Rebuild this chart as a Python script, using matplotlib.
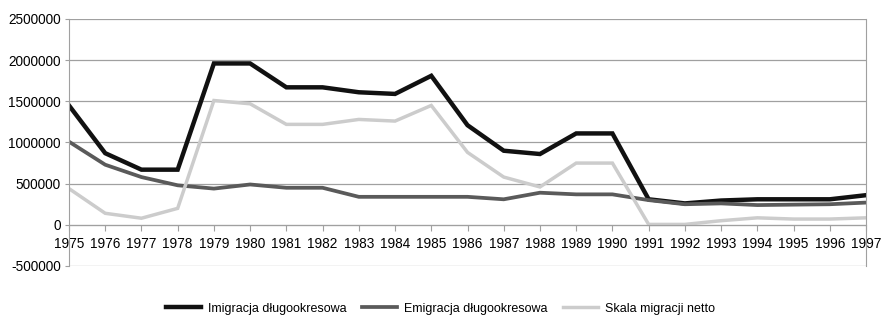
import matplotlib
matplotlib.use("Agg")
import matplotlib.pyplot as plt

years = list(range(1975, 1998))
imigracja = [1450000, 870000, 670000, 670000, 1960000, 1960000, 1670000, 1670000,
             1610000, 1590000, 1810000, 1210000, 900000, 860000, 1110000, 1110000,
             310000, 260000, 295000, 310000, 310000, 310000, 360000]
emigracja = [1010000, 730000, 580000, 480000, 440000, 490000, 450000, 450000,
             340000, 340000, 340000, 340000, 310000, 390000, 370000, 370000,
             300000, 250000, 260000, 240000, 245000, 250000, 270000]
netto = [440000, 140000, 80000, 200000, 1510000, 1470000, 1220000, 1220000,
         1280000, 1260000, 1450000, 880000, 580000, 460000, 750000, 750000,
         5000, 5000, 50000, 85000, 70000, 70000, 85000]
yticks = [-500000, 0, 500000, 1000000, 1500000, 2000000, 2500000]

plt.rcParams['font.family'] = ['Liberation Sans', 'DejaVu Sans']

fig = plt.figure(figsize=(8.81, 3.15), dpi=100)
ax = fig.add_axes([0.0783, 0.1556, 0.9047, 0.7841])

ax.plot(years, imigracja, color='#111111', lw=3.2, label='Imigracja długookresowa', solid_joinstyle='miter')
ax.plot(years, emigracja, color='#5a5a5a', lw=2.7, label='Emigracja długookresowa', solid_joinstyle='miter')
ax.plot(years, netto, color='#cccccc', lw=2.5, label='Skala migracji netto', solid_joinstyle='miter')

ax.set_xlim(1975, 1997)
ax.set_ylim(-500000, 2500000)
ax.set_yticks(yticks)
ax.set_yticklabels([str(v) for v in yticks])
ax.set_xticks(years)
ax.yaxis.grid(True, color='#a0a0a0', lw=0.9)
ax.set_axisbelow(True)

for s in ['left', 'right']:
    ax.spines[s].set_color('#a0a0a0')
ax.spines['top'].set_visible(False)
ax.spines['bottom'].set_position(('data', 0))
ax.spines['bottom'].set_color('#a0a0a0')
ax.tick_params(axis='x', length=4, color='#a0a0a0', labelsize=9.8, pad=5)
ax.tick_params(axis='y', length=3, color='#a0a0a0', labelsize=9.8, pad=3)

fig.legend(loc='lower center', bbox_to_anchor=(0.5, -0.035), ncol=3, frameon=False,
           fontsize=9, handlelength=2.8, columnspacing=1.3, handletextpad=0.5)

fig.savefig('out.png', dpi=100)
